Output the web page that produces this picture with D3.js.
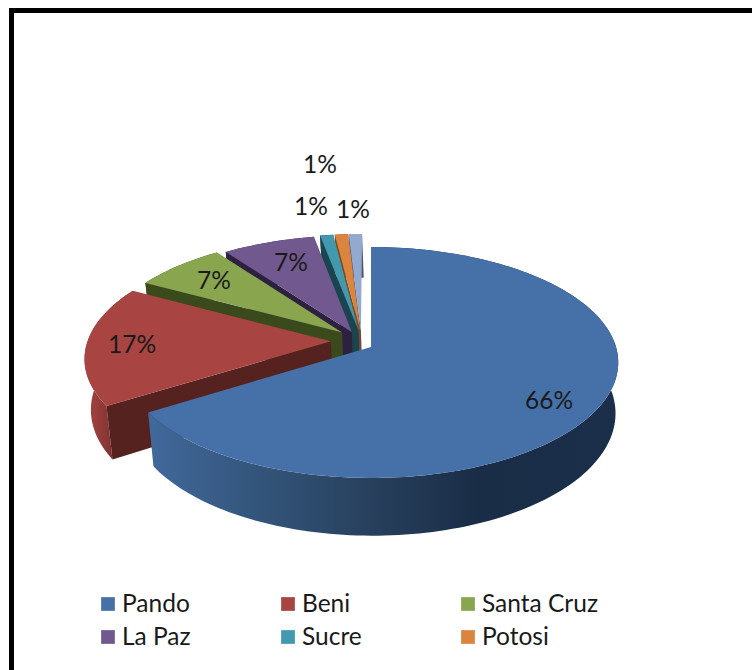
<!DOCTYPE html>
<html><head><meta charset="utf-8">
<script src="https://cdn.jsdelivr.net/npm/d3@7"></script>
<style>html,body{margin:0;padding:0;background:#fff;overflow:hidden}svg{display:block}text{font-family:Lato,"Open Sans",sans-serif;fill:#1a1a1a}</style>
</head><body><svg id="c" width="752" height="670"></svg>
<script>
const categories = ["Pando","Beni","Santa Cruz","La Paz","Sucre","Potosi",""];
const shares = [66,17,7,7,1,1,1];
const valueLabels = ["66%","17%","7%","7%","1%","1%","1%"];
const topColors = ["#4571A8","#A84442","#89A54E","#71588F","#4198AF","#DB843D","#93A9CF"];
const cutColors = ["#2a4565","#552220","#3a4a1c","#2d2140","#1a4550","#7a4a1e","#4a5670"];
const legendOrder = [0,1,2,3,4,5];

// layout: plane-space pull-out of each slice, label centres, legend grid
const pullOut = [[0,0],[-.165,-.05],[-.12,-.13],[-.08,-.135],[-.052,-.15],[-.045,-.15],[-.042,-.145]];
const labelAt = [[549,401],[132,345],[214,281],[291,263],[311,207],[353,210],[320,165]];
const legendCols = [101,281,461], legendRows = [597,630];

const svg = d3.select("#c");
const defs = svg.append("defs");
const cx=371, cy=347, persp=.134;
const xS = d3.scaleLinear().domain([0,1]).range([0,245]);
const yS = d3.scaleLinear().domain([0,1]).range([0,113.4]);
const depth=50, shrink=.983, drift=1.5;
const topP=(u,v)=>{const w=1-persp*v;return [cx+xS(u)/w, cy+yS(v)/w];};
const botP=(u,v)=>{const w=1-persp*v;return [cx+drift+xS(u)/w*shrink, cy+yS(v)/w+depth/w];};
const line=d3.line();
const pie=d3.pie().sort(null).value(d=>d)(shares);
const steps=a=>d3.range(0,1.0001,1/Math.max(2,Math.ceil(a*40)));

function grad(id,x1,x2,stops){
  const g=defs.append("linearGradient").attr("id",id).attr("gradientUnits","userSpaceOnUse")
    .attr("x1",x1).attr("x2",x2).attr("y1",0).attr("y2",0);
  stops.forEach(s=>g.append("stop").attr("offset",s[0]).attr("stop-color",s[1]));
}
grad("w0",148,619,[[0,"#41699b"],[.2,"#35587f"],[.45,"#29425f"],[.7,"#1a2d47"],[1,"#1b2f4a"]]);
grad("w1",85,112,[[0,"#a44442"],[.6,"#933b39"],[1,"#7d3230"]]);

const g=svg.append("g");
const order=d3.range(pie.length).reverse();
order.forEach(i=>{
  const s=pie[i],[ou,ov]=pullOut[i];
  const pt=t=>{const a=s.startAngle+(s.endAngle-s.startAngle)*t;return [ou+Math.sin(a),ov-Math.cos(a)];};
  const ts=steps(s.endAngle-s.startAngle);
  const arcTop=ts.map(t=>topP(...pt(t)));
  const arcBot=ts.map(t=>botP(...pt(t)));
  // outer wall: one quad per arc step, so the silhouette runs tangent between the two rims
  const quads=d3.range(ts.length-1).map(k=>line([arcTop[k],arcTop[k+1],arcBot[k+1],arcBot[k]])+"Z").join("");
  g.append("path").attr("d",quads).attr("fill-rule","nonzero")
    .attr("fill",i<2?`url(#w${i})`:cutColors[i]);
  // cut wall on the leading edge
  if(i>0){
    const e=pt(0);
    g.append("path").attr("d",line([topP(ou,ov),topP(...e),botP(...e),botP(ou,ov)])+"Z").attr("fill",cutColors[i]);
  }
  // top face
  g.append("path").attr("d",line([topP(ou,ov)].concat(arcTop))+"Z").attr("fill",topColors[i]);
});

svg.append("g").selectAll("text").data(valueLabels).join("text")
  .attr("x",(d,i)=>labelAt[i][0]).attr("y",(d,i)=>labelAt[i][1]+8)
  .attr("text-anchor","middle").attr("font-size",24.5).text(d=>d);

const leg=svg.append("g").selectAll("g").data(legendOrder).join("g")
  .attr("transform",(d,i)=>`translate(${legendCols[i%3]},${legendRows[Math.floor(i/3)]})`);
leg.append("rect").attr("width",14).attr("height",14).attr("fill",d=>topColors[d]).attr("stroke","#fff").attr("stroke-opacity",.3);
leg.append("text").attr("x",21).attr("y",14.5).attr("font-size",24.5).text(d=>categories[d]);

svg.append("path").attr("d","M11.5 670V10.5H752").attr("fill","none").attr("stroke","#000").attr("stroke-width",5);
</script></body></html>
